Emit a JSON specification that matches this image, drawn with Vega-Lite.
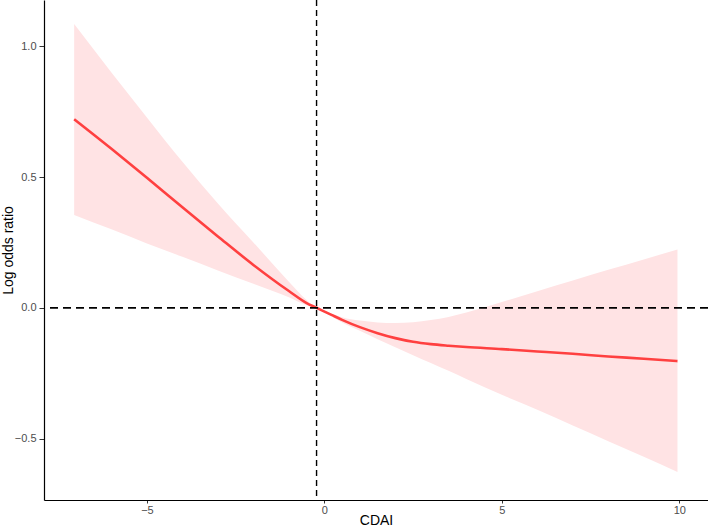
{
  "$schema": "https://vega.github.io/schema/vega-lite/v6.json",
  "width": 664,
  "height": 500,
  "autosize": {"type": "none"},
  "padding": {"left": 44, "top": 0, "right": 0, "bottom": 26},
  "config": {"view": {"stroke": null}, "font": "Liberation Sans"},
  "datasets": {
    "fit": [
      {"cdai": -7.05, "est": 0.721, "lo": 0.355, "hi": 1.085},
      {"cdai": -6, "est": 0.608, "lo": 0.3, "hi": 0.9},
      {"cdai": -5, "est": 0.497, "lo": 0.246, "hi": 0.728},
      {"cdai": -4, "est": 0.384, "lo": 0.195, "hi": 0.558},
      {"cdai": -3, "est": 0.273, "lo": 0.143, "hi": 0.399},
      {"cdai": -2, "est": 0.164, "lo": 0.092, "hi": 0.25},
      {"cdai": -1, "est": 0.064, "lo": 0.04, "hi": 0.1},
      {"cdai": -0.5, "est": 0.018, "lo": 0.01, "hi": 0.03},
      {"cdai": -0.22, "est": 0, "lo": 0, "hi": 0},
      {"cdai": 0.2, "est": -0.027, "lo": -0.032, "hi": -0.022},
      {"cdai": 0.5, "est": -0.046, "lo": -0.056, "hi": -0.036},
      {"cdai": 1, "est": -0.074, "lo": -0.088, "hi": -0.049},
      {"cdai": 1.5, "est": -0.097, "lo": -0.12, "hi": -0.056},
      {"cdai": 2, "est": -0.116, "lo": -0.151, "hi": -0.058},
      {"cdai": 2.5, "est": -0.13, "lo": -0.181, "hi": -0.055},
      {"cdai": 3, "est": -0.139, "lo": -0.211, "hi": -0.047},
      {"cdai": 3.5, "est": -0.145, "lo": -0.241, "hi": -0.035},
      {"cdai": 4, "est": -0.15, "lo": -0.272, "hi": -0.018},
      {"cdai": 5, "est": -0.158, "lo": -0.333, "hi": 0.022},
      {"cdai": 6, "est": -0.167, "lo": -0.39, "hi": 0.063},
      {"cdai": 7, "est": -0.176, "lo": -0.45, "hi": 0.104},
      {"cdai": 8, "est": -0.186, "lo": -0.51, "hi": 0.145},
      {"cdai": 9, "est": -0.195, "lo": -0.57, "hi": 0.185},
      {"cdai": 9.95, "est": -0.204, "lo": -0.628, "hi": 0.223}
    ]
  },
  "layer": [
    {
      "data": {"name": "fit"},
      "mark": {"type": "area", "color": "#FFE3E4", "opacity": 1, "interpolate": "monotone"},
      "encoding": {
        "x": {
          "field": "cdai", "type": "quantitative",
          "scale": {"domain": [-7.9, 10.81], "nice": false, "zero": false},
          "axis": {
            "title": "CDAI", "values": [-5, 0, 5, 10], "grid": false,
            "domainColor": "#000000", "domainWidth": 1.2,
            "tickColor": "#333333", "tickSize": 3, "tickWidth": 1,
            "labelColor": "#4D4D4D", "labelFontSize": 11, "labelPadding": 1,
            "titleFontSize": 14, "titleFontWeight": "normal", "titleColor": "#000000",
            "titleY": 20, "titleBaseline": "middle"
          }
        },
        "y": {
          "field": "lo", "type": "quantitative",
          "scale": {"domain": [-0.735, 1.177], "nice": false, "zero": false},
          "axis": {
            "title": "Log odds ratio", "values": [-0.5, 0, 0.5, 1], "format": ".1f", "grid": false,
            "domainColor": "#000000", "domainWidth": 1.2,
            "tickColor": "#333333", "tickSize": 5, "tickWidth": 1,
            "labelColor": "#4D4D4D", "labelFontSize": 11, "labelPadding": 3,
            "titleFontSize": 14, "titleFontWeight": "normal", "titleColor": "#000000",
            "titleX": -36, "titleY": 250, "titleAngle": -90, "titleBaseline": "middle", "titleAlign": "center"
          }
        },
        "y2": {"field": "hi"}
      }
    },
    {
      "data": {"name": "fit"},
      "mark": {"type": "line", "color": "#FF4040", "strokeWidth": 2.6, "interpolate": "monotone"},
      "encoding": {
        "x": {"field": "cdai", "type": "quantitative"},
        "y": {"field": "est", "type": "quantitative"}
      }
    },
    {
      "data": {"values": [{"y0": 0}]},
      "mark": {"type": "rule", "color": "#000000", "strokeWidth": 1.8, "strokeDash": [8, 5]},
      "encoding": {"y": {"field": "y0", "type": "quantitative"}}
    },
    {
      "data": {"values": [{"x0": -0.22}]},
      "mark": {"type": "rule", "color": "#000000", "strokeWidth": 1.4, "strokeDash": [6, 4]},
      "encoding": {"x": {"field": "x0", "type": "quantitative"}}
    }
  ]
}
